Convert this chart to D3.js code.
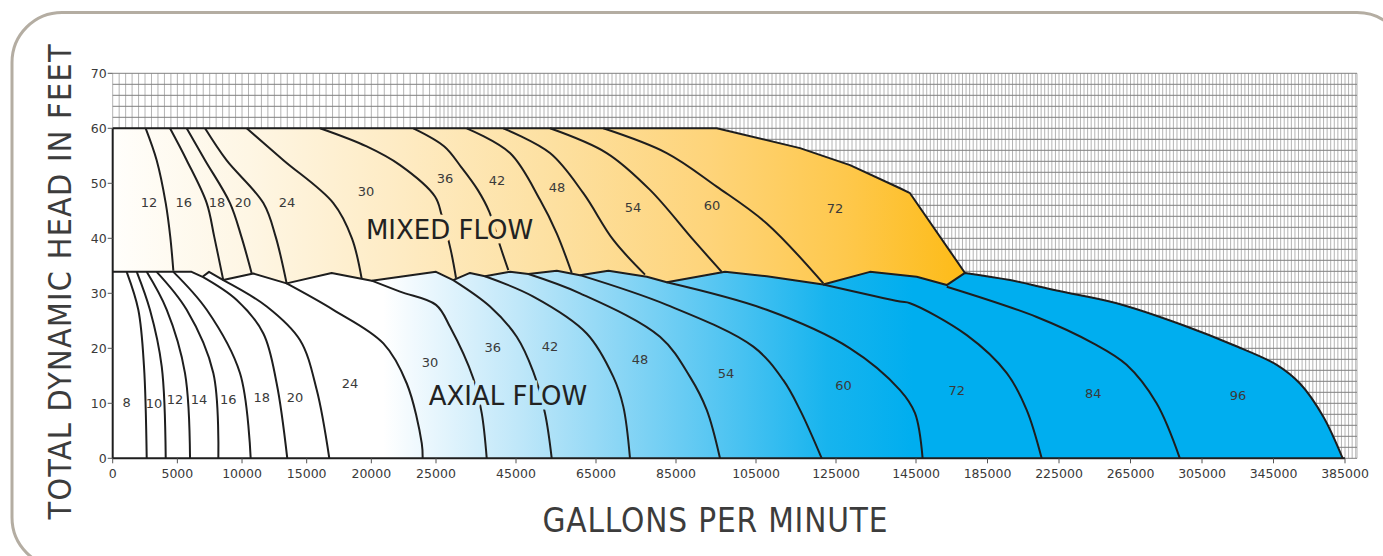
<!DOCTYPE html>
<html lang="en">
<head>
<meta charset="UTF-8">
<title>Pump Selection Chart</title>
<script src="https://d3js.org/d3.v7.min.js"></script>
<style>
  body { margin: 0; background: #fff; }
  svg { display: block; }
  .tick-label { font-family: "DejaVu Sans", sans-serif; font-size: 12.5px; fill: #3a3a3a; }
  .size-label { font-family: "DejaVu Sans", sans-serif; font-size: 13px; fill: #3a3a3a; }
  .flow-label { font-family: "DejaVu Sans", sans-serif; font-size: 26px; fill: #222; }
  .axis-title { font-family: "Liberation Sans Narrow", "DejaVu Sans Condensed", sans-serif; fill: #3c3c3c; }
  .curve { fill: none; stroke: #1e1e1e; stroke-width: 2; stroke-linejoin: round; }
</style>
</head>
<body>
<svg id="chart"></svg>
<script>
const W = 1383, H = 556;

// axis ticks
const xTicks = [0, 5000, 10000, 15000, 20000, 25000, 45000, 65000, 85000, 105000, 125000, 145000, 185000, 225000, 265000, 305000, 345000, 385000];
const yTicks = [0, 10, 20, 30, 40, 50, 60, 70];

// upper edge of the axial flow family [gpm, feet] - sawtooth part, then the smooth 96" edge
const axialTop = [
  [0, 33.9], [6100, 33.9], [6950, 33.0], [7450, 33.9], [8550, 32.4], [10870, 33.6],
  [13450, 31.8], [16930, 33.7], [20030, 32.3], [25000, 33.9], [29300, 32.4], [33500, 33.7],
  [37250, 33.1], [43500, 33.9], [48100, 33.5], [55200, 34.1], [61000, 33.3], [68100, 34.1],
  [77700, 33.0], [82700, 32.0], [97250, 33.9], [107700, 33.1], [121800, 31.6], [133500, 33.9],
  [145400, 33.0], [162200, 31.5], [172400, 33.7]
];
const axialEdge = [
  [172400, 33.7], [197600, 32.4], [223700, 30.5], [257300, 28.2], [294500, 24.2], [322500, 20.6],
  [346800, 17.0], [359800, 13.6], [372800, 7.6], [383700, 0]
];

// outer edge of the mixed flow family (72")
const mixedTop = [[0, 60], [95200, 60], [116000, 56.4], [128500, 53.3], [141000, 49.1], [143500, 48.2], [172400, 33.7]];

// mixed flow pump sizes (inches) and their limit curves
const mixedSizes = [12, 16, 18, 20, 24, 30, 36, 42, 48, 54, 60];
const mixedCurves = [
  [[2550, 60], [3400, 54.2], [4100, 46.4], [4450, 40.3], [4690, 34.1]],
  [[4430, 60], [5720, 54.2], [7270, 46.4], [7850, 40.3], [8550, 32.4]],
  [[5720, 60], [7140, 54.2], [9070, 46.4], [9950, 40.3], [10750, 33.6]],
  [[7140, 60], [8800, 54.2], [11650, 46.4], [12600, 40.3], [13450, 31.8]],
  [[10360, 60], [13200, 54.2], [17060, 46.4], [18500, 40.0], [19250, 32.7]],
  [[16030, 60], [19640, 56.7], [22220, 53.3], [24920, 47.6], [26420, 44.2], [28680, 37.9], [30000, 32.8]],
  [[23250, 60], [27080, 56.7], [31250, 53.0], [35430, 48.8], [38330, 44.8], [41080, 38.5], [43080, 34.2]],
  [[32680, 60], [43500, 55.5], [51000, 47.0], [55180, 40.9], [58930, 33.7]],
  [[41830, 60], [53500, 55.5], [61830, 48.2], [69330, 39.7], [77250, 33.4]],
  [[53500, 60], [67680, 55.5], [78500, 48.8], [89330, 39.7], [96430, 33.9]],
  [[66830, 60], [82680, 55.5], [95180, 49.4], [107680, 42.7], [121830, 31.8]]
];
const mixedLabelAt = [[2800, 46.6], [5500, 46.6], [8070, 46.6], [10080, 46.6], [13480, 46.6], [19590, 48.6],
  [27250, 51.0], [40250, 50.6], [55250, 49.4], [74250, 45.7], [94000, 46.1], [124750, 45.5]];
const mixedLabels = [12, 16, 18, 20, 24, 30, 36, 42, 48, 54, 60, 72];

// axial flow pump sizes (inches) and their limit curves
const axialSizes = [8, 10, 12, 14, 16, 18, 20, 24, 30, 36, 42, 48, 54, 60, 72, 84];
const axialCurves = [
  [[1080, 33.9], [1980, 27.0], [2420, 16.7], [2630, 0]],
  [[1860, 33.9], [2880, 27.0], [3790, 16.7], [4100, 0]],
  [[2630, 33.9], [4180, 27.0], [5590, 15.5], [5980, 0]],
  [[3400, 33.9], [5720, 27.0], [7780, 15.5], [8170, 0]],
  [[4690, 33.9], [7270, 27.0], [9840, 15.5], [10670, 0]],
  [[6960, 33.0], [9590, 28.8], [11650, 22.7], [12680, 13.6], [13500, 0]],
  [[8550, 32.4], [11910, 27.6], [14480, 21.5], [15780, 12.4], [16750, 0]],
  [[13450, 31.8], [17060, 27.0], [20930, 20.9], [22740, 13.6], [23900, 2.7], [23970, 0]],
  [[20030, 32.3], [22220, 30.3], [25000, 27.9], [28500, 23.9], [34330, 14.5], [36430, 8.2], [37680, 0]],
  [[29300, 32.4], [38500, 27.6], [45180, 22.1], [49330, 15.7], [52250, 8.2], [53930, 0]],
  [[37250, 33.1], [49330, 29.4], [62680, 22.7], [69330, 14.8], [71830, 9.4], [73500, 0]],
  [[48100, 33.5], [61000, 30.0], [81000, 22.1], [88500, 14.8], [92680, 8.8], [96000, 0]],
  [[61000, 33.3], [82680, 27.9], [104330, 20.3], [111830, 14.2], [116000, 8.8], [121430, 0]],
  [[82700, 32.0], [107680, 27.0], [128500, 20.0], [141000, 12.4], [144750, 8.2], [148700, 0]],
  [[121800, 31.6], [141000, 28.5], [143500, 28.2], [173400, 22.4], [195800, 15.5], [206900, 8.8], [215300, 0]],
  [[162200, 31.2], [212500, 25.7], [244200, 20.9], [262800, 17.0], [279600, 10.0], [292600, 0]]
];
const axialLabelAt = [[1080, 10.3], [3190, 10.0], [4820, 10.8], [6670, 10.8], [8940, 10.8], [11520, 11.2],
  [14100, 11.1], [18350, 13.7], [24540, 17.6], [39180, 20.3], [53500, 20.4], [76000, 18.0], [97500, 15.6],
  [126900, 13.3], [167800, 12.4], [244200, 11.8], [325100, 11.5]];
const axialLabels = [8, 10, 12, 14, 16, 18, 20, 24, 30, 36, 42, 48, 54, 60, 72, 84, 96];

const svg = d3.select("#chart").attr("width", W).attr("height", H);

// gpm axis is stretched in three pieces
const x = d3.scaleLinear().domain([0, 25000, 145000, 385000]).range([112.7, 436, 916, 1345]);
const y = d3.scaleLinear().domain([0, 70]).range([458.3, 73.3]);
const gridRight = 1357;

const line = d3.line().x(d => x(d[0])).y(d => y(d[1]));
const smooth = d3.line().x(d => x(d[0])).y(d => y(d[1])).curve(d3.curveCatmullRom.alpha(0.5));

// sawtooth straight, 96" edge smooth
const envelopePath = line(axialTop) + smooth(axialEdge).replace(/^M/, "L");

// frame
svg.append("rect").attr("x", 12).attr("y", 12.5).attr("width", 1395).attr("height", 555)
  .attr("rx", 50).attr("fill", "#fff").attr("stroke", "#b4ada2").attr("stroke-width", 3);

// gradients
const defs = svg.append("defs");
function grad(id, x1, x2, stops) {
  const g = defs.append("linearGradient").attr("id", id).attr("gradientUnits", "userSpaceOnUse")
    .attr("x1", x1).attr("x2", x2).attr("y1", 0).attr("y2", 0);
  stops.forEach(s => g.append("stop").attr("offset", s[0]).attr("stop-color", s[1]));
}
grad("mixedGrad", 112, 965, [[0, "#fffefb"], [0.16, "#fef6e4"], [0.34, "#feebc3"], [0.52, "#fde0a0"], [0.7, "#fed47a"], [0.86, "#fec84c"], [1, "#fdbb17"]]);
grad("axialGrad", 112, 1345, [[0, "#ffffff"], [0.22, "#ffffff"], [0.26, "#e8f6fd"], [0.33, "#bfe7f9"], [0.41, "#8bd6f5"], [0.49, "#56c6f2"], [0.58, "#17b4ee"], [0.65, "#00aeef"], [1, "#00aeef"]]);

// grid
const grid = svg.append("g");
const vLines = d3.range(0, 25000, 500).concat(d3.range(25000, 145000, 1000), d3.range(145000, 392000, 2000));
grid.selectAll(".v").data(vLines).enter().append("line")
  .attr("x1", d => x(d)).attr("x2", d => x(d)).attr("y1", y(70)).attr("y2", y(0))
  .attr("stroke", "#acacac").attr("stroke-width", 0.9);
grid.append("line").attr("x1", gridRight).attr("x2", gridRight).attr("y1", y(70)).attr("y2", y(0))
  .attr("stroke", "#acacac").attr("stroke-width", 0.9);
grid.selectAll(".h").data(d3.range(0, 71, 2)).enter().append("line")
  .attr("x1", x(0)).attr("x2", gridRight).attr("y1", d => y(d)).attr("y2", d => y(d))
  .attr("stroke", "#808080").attr("stroke-width", 1);

// filled families
const mixedArea = mixedTop.concat(axialTop.slice().reverse());
svg.append("path").attr("d", line(mixedArea) + "Z").attr("fill", "url(#mixedGrad)");
svg.append("path").attr("d", envelopePath + "L" + x(0) + "," + y(0) + "Z").attr("fill", "url(#axialGrad)");

// limit curves
svg.append("g").selectAll("path").data(mixedCurves).enter().append("path")
  .attr("class", "curve").attr("d", d => smooth(d));
svg.append("g").selectAll("path").data(axialCurves).enter().append("path")
  .attr("class", "curve").attr("d", d => smooth(d));

// outlines
svg.append("path").attr("class", "curve").attr("d", envelopePath);
svg.append("path").attr("class", "curve").attr("d", line(mixedTop));
svg.append("path").attr("class", "curve").attr("d", line([[0, 60], [0, 0], [385000, 0]]));

// size labels
svg.append("g").selectAll("text").data(mixedLabels).enter().append("text")
  .attr("class", "size-label").attr("text-anchor", "middle")
  .attr("x", (d, i) => x(mixedLabelAt[i][0])).attr("y", (d, i) => y(mixedLabelAt[i][1]) + 5).text(d => d);
svg.append("g").selectAll("text").data(axialLabels).enter().append("text")
  .attr("class", "size-label").attr("text-anchor", "middle")
  .attr("x", (d, i) => x(axialLabelAt[i][0])).attr("y", (d, i) => y(axialLabelAt[i][1]) + 5).text(d => d);

// family names, knocked out of the lines below
svg.append("text").attr("class", "flow-label").attr("text-anchor", "middle")
  .attr("x", x(28400)).attr("y", y(39.8))
  .attr("stroke", "url(#mixedGrad)").attr("stroke-width", 9).attr("paint-order", "stroke")
  .text("MIXED FLOW");
svg.append("text").attr("class", "flow-label").attr("text-anchor", "middle")
  .attr("x", x(43000)).attr("y", y(9.7))
  .attr("stroke", "url(#axialGrad)").attr("stroke-width", 9).attr("paint-order", "stroke")
  .text("AXIAL FLOW");

// axes
const xAxis = svg.append("g");
xAxis.selectAll("line").data(xTicks).enter().append("line")
  .attr("x1", d => x(d)).attr("x2", d => x(d)).attr("y1", y(0)).attr("y2", y(0) + 5)
  .attr("stroke", "#555").attr("stroke-width", 1);
xAxis.selectAll("text").data(xTicks).enter().append("text")
  .attr("class", "tick-label").attr("text-anchor", "middle")
  .attr("x", d => x(d)).attr("y", y(0) + 20).text(d => d);

const yAxis = svg.append("g");
yAxis.selectAll("line").data(yTicks).enter().append("line")
  .attr("x1", x(0) - 5).attr("x2", x(0)).attr("y1", d => y(d)).attr("y2", d => y(d))
  .attr("stroke", "#555").attr("stroke-width", 1);
yAxis.selectAll("text").data(yTicks).enter().append("text")
  .attr("class", "tick-label").attr("text-anchor", "end")
  .attr("x", x(0) - 6).attr("y", d => y(d) + 4.5).text(d => d);

// titles
svg.append("text").attr("class", "axis-title").attr("text-anchor", "middle")
  .attr("font-size", 33).attr("textLength", 345).attr("lengthAdjust", "spacing")
  .attr("x", 715).attr("y", 532).text("GALLONS PER MINUTE");
svg.append("text").attr("class", "axis-title").attr("text-anchor", "middle")
  .attr("font-size", 32).attr("textLength", 475).attr("lengthAdjust", "spacing")
  .attr("transform", "translate(71,282) rotate(-90)").text("TOTAL DYNAMIC HEAD IN FEET");
</script>
</body>
</html>
